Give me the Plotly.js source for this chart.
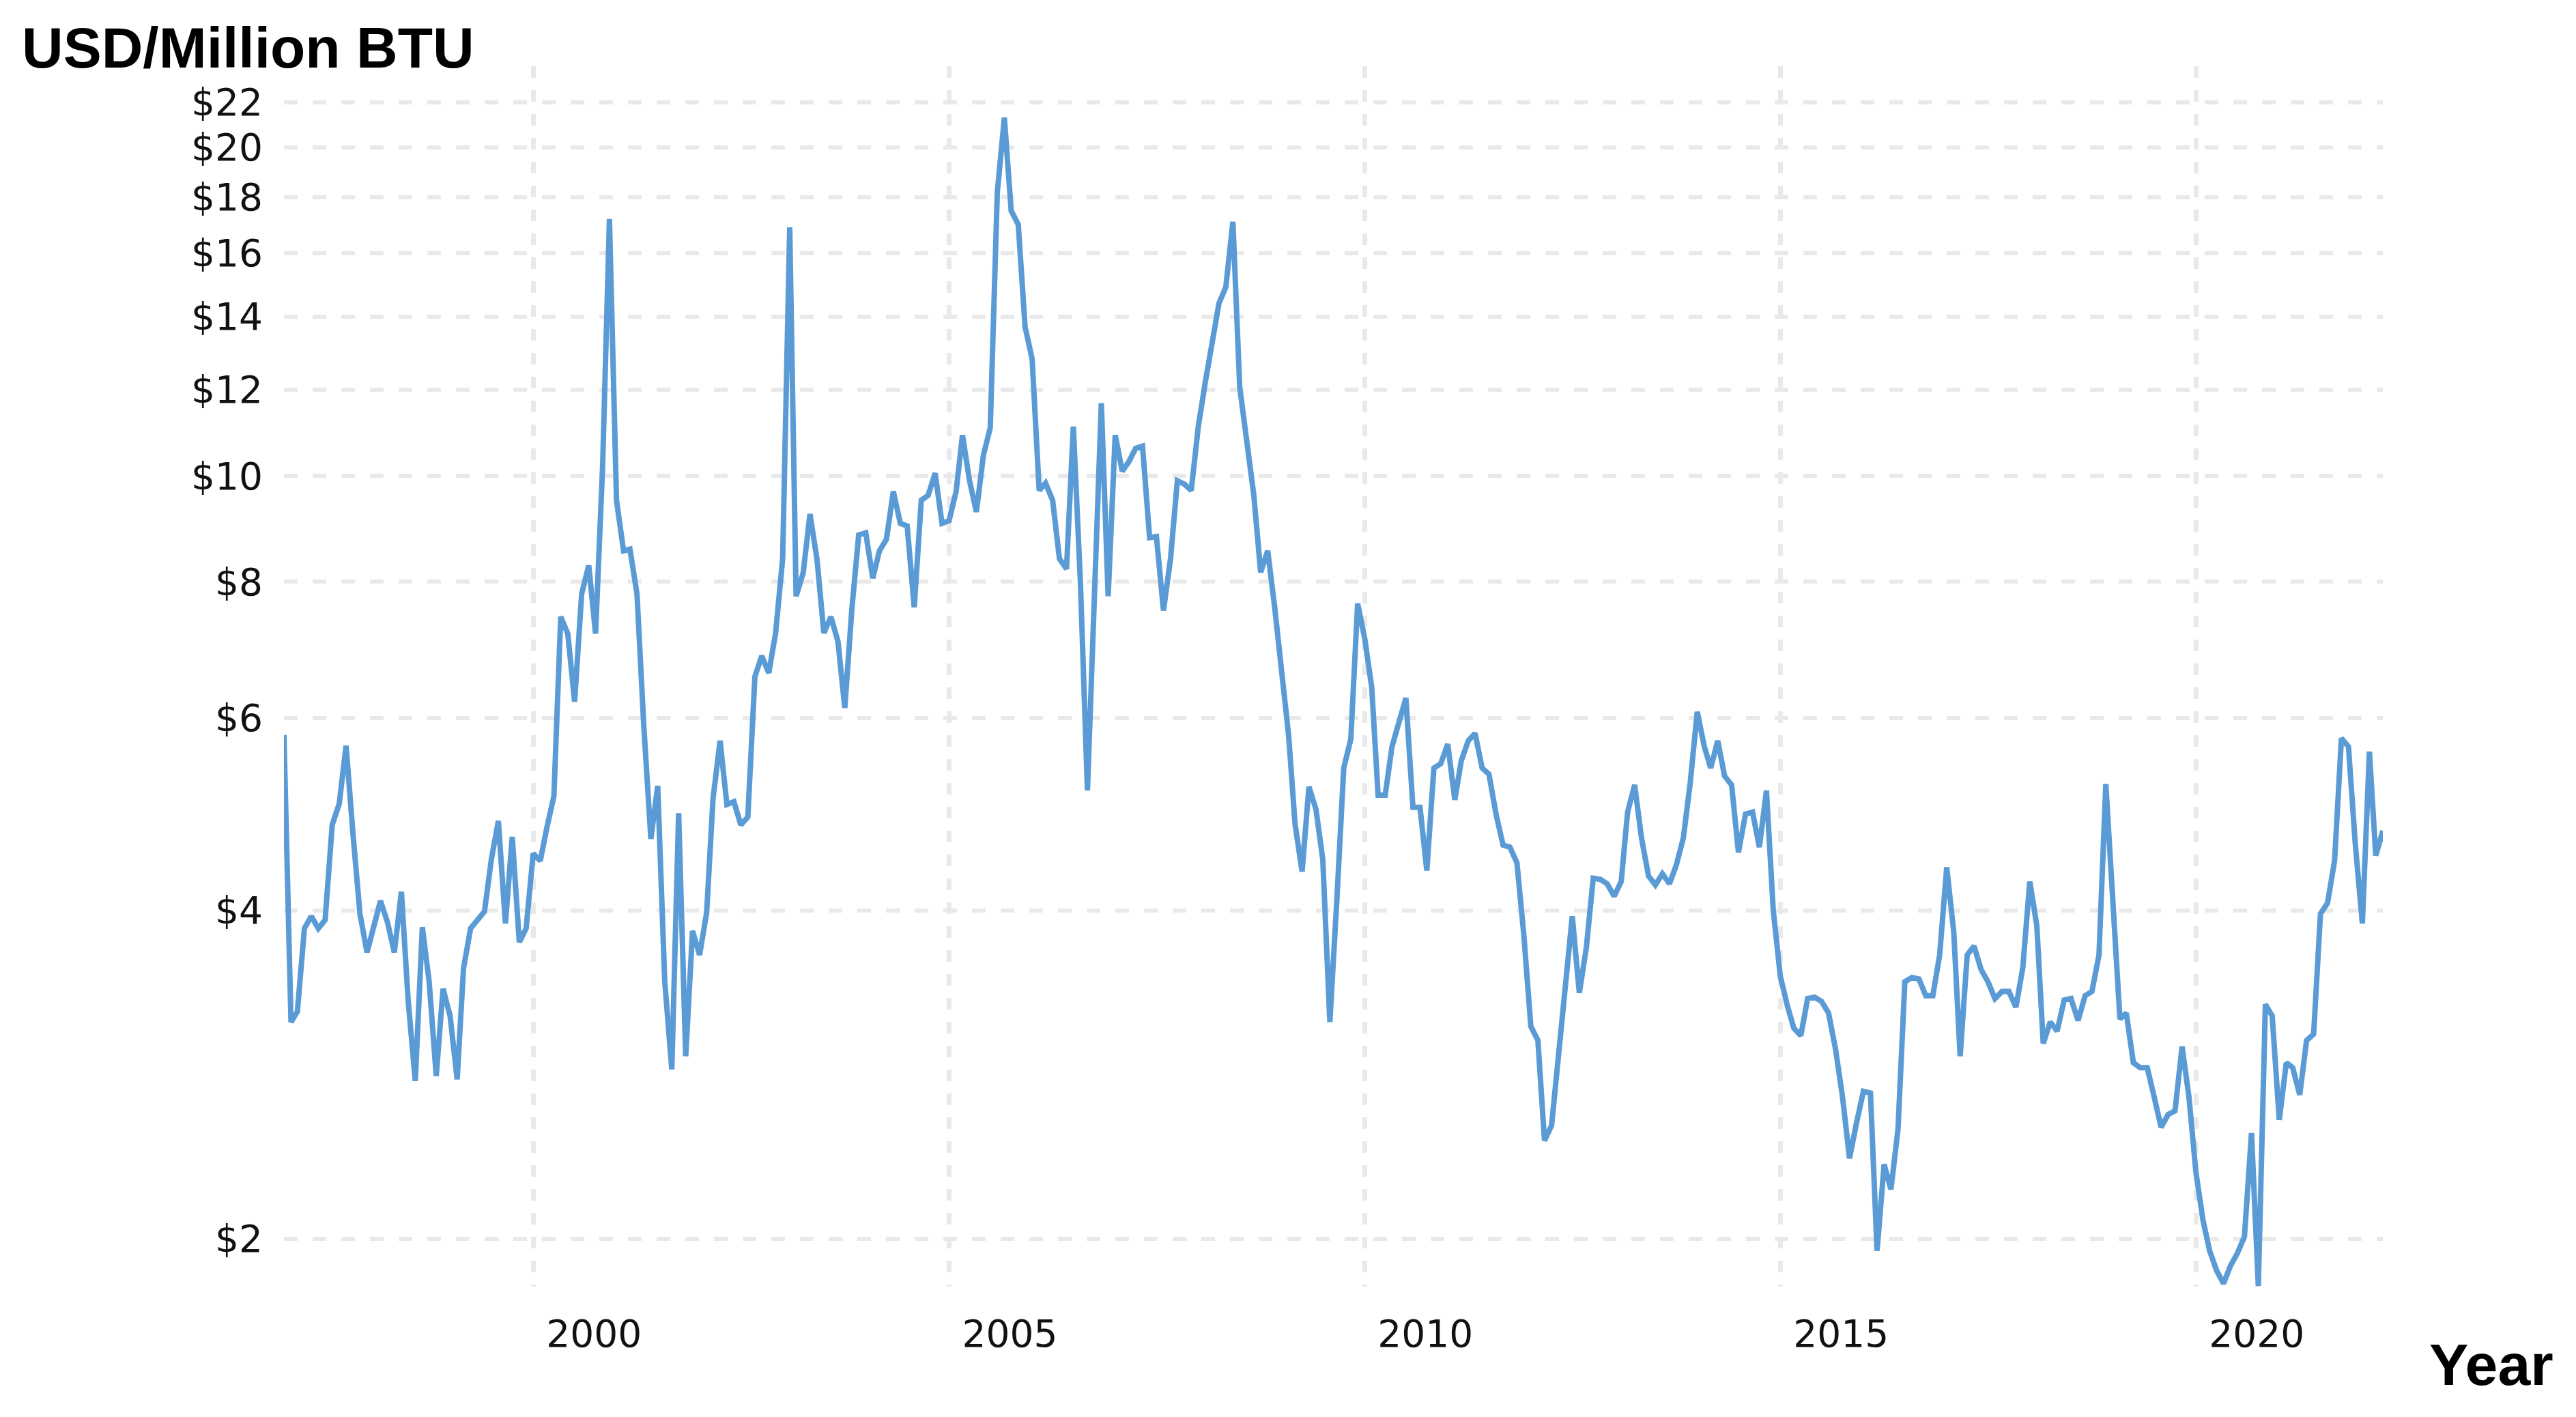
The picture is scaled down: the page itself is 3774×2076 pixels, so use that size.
<!DOCTYPE html>
<html>
<head>
<meta charset="utf-8">
<script src="https://cdn.plot.ly/plotly-3.0.1.min.js"></script>
<style>
  html, body { margin: 0; padding: 0; background: #ffffff; }
  #chart { width: 3774px; height: 2076px; }
</style>
</head>
<body>
<div id="chart"></div>
<script>
// Monthly price series (USD per million BTU), first value = January 1997
const startYear = 1997;
const price1997 = [5.79, 3.16, 3.23, 3.85, 3.95, 3.85, 3.92, 4.79, 5.01, 5.66, 4.68, 3.97];
const price1998 = [3.66, 3.86, 4.08, 3.90, 3.66, 4.16, 3.30, 2.79, 3.86, 3.44, 2.82, 3.39];
const price1999 = [3.20, 2.80, 3.54, 3.85, 3.92, 3.99, 4.45, 4.83, 3.89, 4.67, 3.74, 3.85];
const price2000 = [4.51, 4.44, 4.76, 5.09, 7.43, 7.17, 6.21, 7.80, 8.28, 7.17, 10.2, 17.2];
const price2001 = [9.50, 8.54, 8.57, 7.80, 5.90, 4.65, 5.20, 3.44, 2.86, 4.91, 2.94, 3.83];
const price2002 = [3.64, 3.98, 5.06, 5.72, 5.00, 5.03, 4.79, 4.87, 6.55, 6.84, 6.60, 7.18];
const price2003 = [8.40, 16.9, 7.76, 8.15, 9.23, 8.38, 7.18, 7.43, 7.05, 6.13, 7.55, 8.83];
const price2004 = [8.87, 8.06, 8.54, 8.75, 9.68, 9.05, 9.00, 7.58, 9.50, 9.60, 10.06, 9.05];
const price2005 = [9.10, 9.68, 10.9, 9.90, 9.27, 10.45, 11.07, 18.2, 21.3, 17.5, 17.0, 13.7];
const price2006 = [12.8, 9.70, 9.85, 9.50, 8.40, 8.22, 11.1, 8.00, 5.15, 8.00, 11.66, 7.76];
const price2007 = [10.9, 10.1, 10.3, 10.6, 10.65, 8.78, 8.80, 7.53, 8.40, 9.90, 9.83, 9.70];
const price2008 = [11.1, 12.2, 13.3, 14.4, 14.9, 17.1, 12.06, 10.77, 9.60, 8.16, 8.54, 7.60];
const price2009 = [6.68, 5.78, 4.80, 4.34, 5.19, 4.95, 4.45, 3.16, 4.10, 5.40, 5.74, 7.64];
const price2010 = [7.10, 6.40, 5.10, 5.10, 5.65, 5.93, 6.26, 4.97, 4.97, 4.35, 5.40, 5.45];
const price2011 = [5.68, 5.05, 5.48, 5.72, 5.81, 5.40, 5.33, 4.90, 4.59, 4.57, 4.42, 3.80];
const price2012 = [3.13, 3.04, 2.46, 2.54, 2.95, 3.40, 3.95, 3.36, 3.70, 4.28, 4.27, 4.23];
const price2013 = [4.12, 4.25, 4.92, 5.21, 4.66, 4.30, 4.22, 4.32, 4.23, 4.40, 4.66, 5.23];
const price2014 = [6.08, 5.65, 5.40, 5.72, 5.31, 5.21, 4.52, 4.90, 4.92, 4.57, 5.15, 4.00];
const price2015 = [3.48, 3.27, 3.12, 3.07, 3.32, 3.33, 3.30, 3.22, 2.98, 2.70, 2.37, 2.55];
const price2016 = [2.73, 2.72, 1.95, 2.34, 2.22, 2.52, 3.44, 3.47, 3.46, 3.34, 3.34, 3.64];
const price2017 = [4.38, 3.82, 2.94, 3.64, 3.71, 3.53, 3.44, 3.32, 3.37, 3.37, 3.26, 3.54];
const price2018 = [4.25, 3.87, 3.02, 3.16, 3.10, 3.31, 3.32, 3.17, 3.34, 3.37, 3.64, 5.22];
const price2019 = [4.05, 3.18, 3.22, 2.90, 2.87, 2.87, 2.70, 2.53, 2.60, 2.62, 3.00, 2.70];
const price2020 = [2.30, 2.08, 1.95, 1.87, 1.82, 1.89, 1.94, 2.01, 2.50, 1.81, 3.28, 3.20];
const price2021 = [2.57, 2.90, 2.87, 2.71, 3.04, 3.08, 3.97, 4.06, 4.44, 5.75, 5.65, 4.60];
const price2022 = [3.89, 5.59, 4.49, 4.73];

const yearlyPrices = [price1997, price1998, price1999, price2000, price2001, price2002,
  price2003, price2004, price2005, price2006, price2007, price2008, price2009, price2010,
  price2011, price2012, price2013, price2014, price2015, price2016, price2017, price2018,
  price2019, price2020, price2021, price2022];

const yTickValues = [2, 4, 6, 8, 10, 12, 14, 16, 18, 20, 22];
const yTickLabels = ['$2', '$4', '$6', '$8', '$10', '$12', '$14', '$16', '$18', '$20', '$22'];
const xTickYears = ['2000', '2005', '2010', '2015', '2020'];
const yAxisLabel = 'USD/Million BTU';
const xAxisLabel = 'Year';

// Build month dates and values
const dates = [];
const prices = [];
yearlyPrices.forEach(function (arr, yi) {
  arr.forEach(function (v, mi) {
    const y = startYear + yi;
    const m = String(mi + 1).padStart(2, '0');
    dates.push(y + '-' + m + '-01');
    prices.push(v);
  });
});

const trace = {
  x: dates,
  y: prices,
  type: 'scatter',
  mode: 'lines',
  line: { color: '#5b9bd5', width: 8 },
  hoverinfo: 'skip'
};

const tickFont = { family: 'DejaVu Sans, Verdana, sans-serif', size: 55, color: '#111111' };
const gridColor = '#e9e9e9';

const layout = {
  width: 3774,
  height: 2076,
  margin: { l: 416, r: 283, t: 97, b: 191, pad: 0 },
  paper_bgcolor: '#ffffff',
  plot_bgcolor: '#ffffff',
  showlegend: false,
  xaxis: {
    type: 'date',
    range: ['1997-01-01', '2022-04-01'],
    tickvals: xTickYears.map(function (y) { return y + '-01-01'; }),
    ticktext: xTickYears,
    showgrid: true,
    gridcolor: gridColor,
    gridwidth: 7,
    griddash: '17px,18px',
    showline: false,
    zeroline: false,
    ticks: '',
    tickfont: tickFont,
    ticklabelshift: 89,
    ticklabelstandoff: 32,
    fixedrange: true
  },
  yaxis: {
    type: 'log',
    range: [0.2572, 1.3755],
    tickvals: yTickValues,
    ticktext: yTickLabels,
    showgrid: true,
    gridcolor: gridColor,
    gridwidth: 6,
    griddash: '20px,22px',
    showline: false,
    zeroline: false,
    ticks: '',
    tickfont: tickFont,
    ticklabelstandoff: 30,
    fixedrange: true
  },
  annotations: [
    {
      text: '<b>' + yAxisLabel + '</b>',
      xref: 'paper', yref: 'paper',
      x: -0.01707, y: 1.0151,
      xanchor: 'center', yanchor: 'middle',
      showarrow: false,
      font: { family: 'Liberation Sans, Arial, sans-serif', size: 84, color: '#000000' }
    },
    {
      text: '<b>' + xAxisLabel + '</b>',
      xref: 'paper', yref: 'paper',
      x: 1.0517, y: -0.0638,
      xanchor: 'center', yanchor: 'middle',
      showarrow: false,
      font: { family: 'Liberation Sans, Arial, sans-serif', size: 86, color: '#000000' }
    }
  ]
};

Plotly.newPlot('chart', [trace], layout, { displayModeBar: false, responsive: false });
</script>
</body>
</html>
